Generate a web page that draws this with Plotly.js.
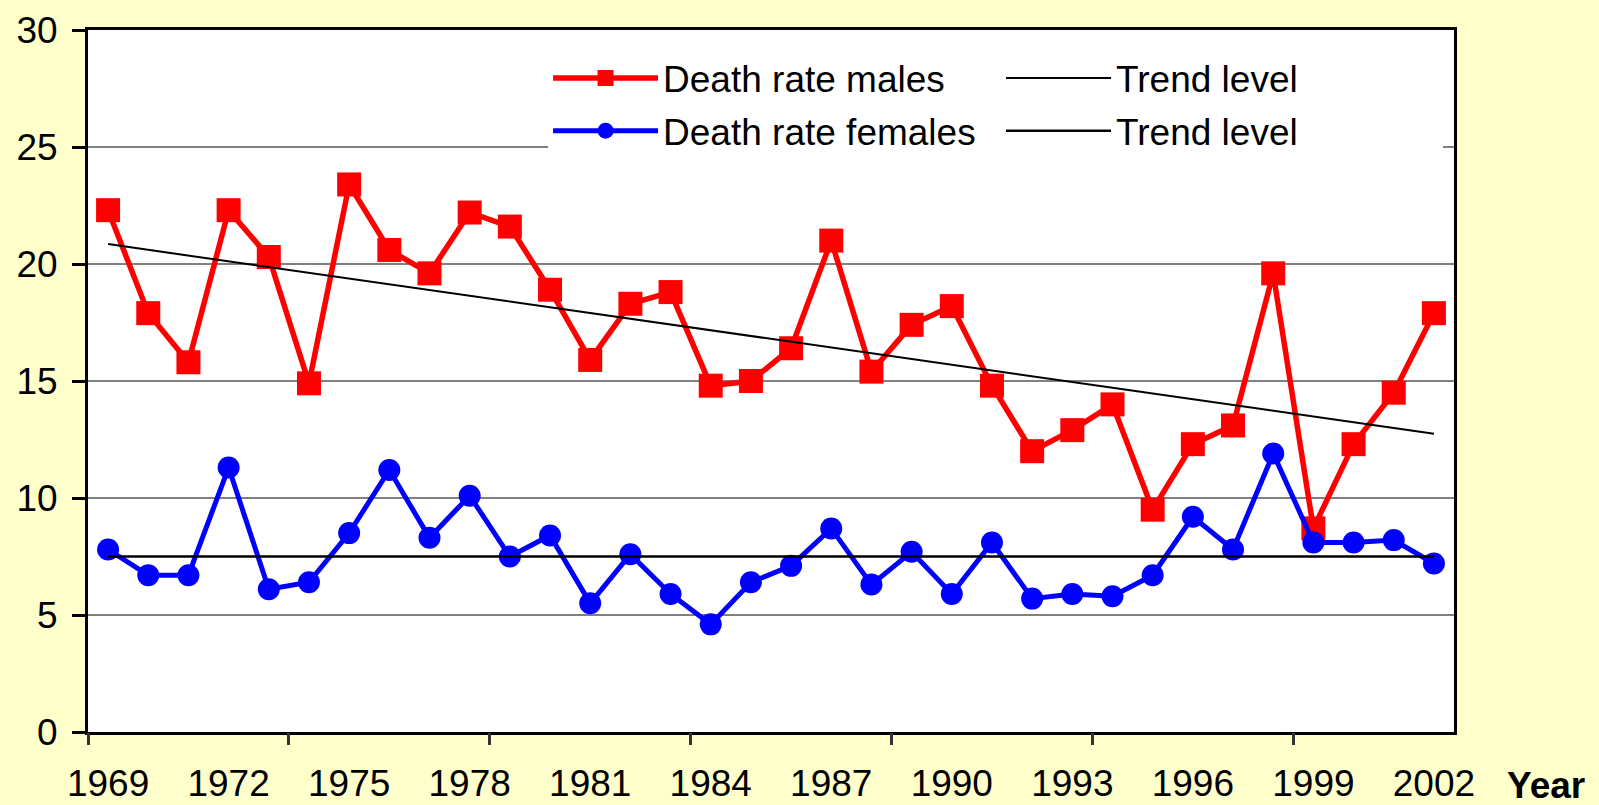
<!DOCTYPE html>
<html>
<head>
<meta charset="utf-8">
<script src="https://cdn.plot.ly/plotly-3.0.1.min.js"></script>
<style>
html,body{margin:0;padding:0;background:#FFFFCC;}
#chart{width:1599px;height:805px;}
</style>
</head>
<body>
<div id="chart"></div>
<script>
// ---- data ----
const years = [1969,1970,1971,1972,1973,1974,1975,1976,1977,1978,1979,1980,1981,1982,1983,1984,1985,1986,1987,1988,1989,1990,1991,1992,1993,1994,1995,1996,1997,1998,1999,2000,2001,2002];
const deathRateMales = [22.3,17.9,15.8,22.3,20.3,14.9,23.4,20.6,19.6,22.2,21.6,18.9,15.9,18.3,18.8,14.8,15.0,16.4,21.0,15.4,17.4,18.2,14.8,12.0,12.9,14.0,9.5,12.3,13.1,19.6,8.7,12.3,14.5,17.9];
const deathRateFemales = [7.8,6.7,6.7,11.3,6.1,6.4,8.5,11.2,8.3,10.1,7.5,8.4,5.5,7.6,5.9,4.6,6.4,7.1,8.7,6.3,7.7,5.9,8.1,5.7,5.9,5.8,6.7,9.2,7.8,11.9,8.1,8.1,8.2,7.2];
const trendYears = [1969, 2002];
const trendMales = [20.85, 12.75];
const trendFemales = [7.5, 7.5];
const labelYears = [1969,1972,1975,1978,1981,1984,1987,1990,1993,1996,1999,2002];
const labelText = labelYears.map(String);
const boundaryTicks = [1968.5,1973.5,1978.5,1983.5,1988.5,1993.5,1998.5];
const seriesNames = ['Death rate males','Trend level','Death rate females','Trend level'];

const FONT = '"Liberation Sans", Arial, sans-serif';
const FS = 37;

const traces = [
  {x: years, y: deathRateMales, name: seriesNames[0], type:'scatter', mode:'lines+markers',
   line:{color:'#FF0000', width:5.5}, marker:{symbol:'square', size:24, color:'#FF0000'},
   legend:'legend'},
  {x: trendYears, y: trendMales, name: seriesNames[1], type:'scatter', mode:'lines',
   line:{color:'#000000', width:2}, legend:'legend3'},
  {x: years, y: deathRateFemales, name: seriesNames[2], type:'scatter', mode:'lines+markers',
   line:{color:'#0000FF', width:5}, marker:{symbol:'circle', size:22, color:'#0000FF'},
   legend:'legend2'},
  {x: trendYears, y: trendFemales, name: seriesNames[3], type:'scatter', mode:'lines',
   line:{color:'#000000', width:2.5}, legend:'legend4'},
  // invisible trace carrying the boundary tick marks axis
  {x: [years[0]], y: [0], xaxis:'x2', yaxis:'y', mode:'markers', marker:{opacity:0}, showlegend:false, hoverinfo:'skip'}
];

const legendBase = {
  orientation:'h', bgcolor:'#FFFFFF', borderwidth:0,
  font:{family:FONT, size:FS, color:'#000000'}, xanchor:'left', yanchor:'middle',
  itemsizing:'trace', itemwidth:105, entrywidthmode:'pixels'
};

const layout = {
  width:1599, height:805,
  paper_bgcolor:'#FFFFCC', plot_bgcolor:'#FFFFFF',
  margin:{l:88, r:145, t:30, b:73, pad:0},
  font:{family:FONT, size:FS, color:'#000000'},
  showlegend:true,
  xaxis:{
    range:[1968.5, 2002.5], tickmode:'array', tickvals:labelYears, ticktext:labelText,
    ticks:'', showgrid:false, zeroline:false, showline:true, mirror:true,
    linecolor:'#000000', linewidth:3, tickfont:{family:FONT, size:FS, color:'#000000'},
    ticklabelstandoff:17
  },
  xaxis2:{
    overlaying:'x', matches:'x', range:[1968.5, 2002.5], tickmode:'array', tickvals:boundaryTicks,
    showticklabels:false, ticks:'outside', ticklen:12, tickwidth:3, tickcolor:'#333333',
    showgrid:false, zeroline:false, showline:false, side:'bottom', anchor:'y'
  },
  yaxis:{
    range:[0,30], tickmode:'linear', tick0:0, dtick:5, ticks:'outside', ticklen:13, tickwidth:3,
    tickcolor:'#000000', showgrid:true, gridcolor:'#808080', gridwidth:2.5, zeroline:false,
    showline:true, mirror:true, linecolor:'#000000', linewidth:3,
    tickfont:{family:FONT, size:FS, color:'#000000'}, ticklabelstandoff:7
  },
  legend:  Object.assign({}, legendBase, {x:0.3368, y:0.931, entrywidth:330}),
  legend2: Object.assign({}, legendBase, {x:0.3368, y:0.856, entrywidth:342}),
  legend3: Object.assign({}, legendBase, {x:0.6684, y:0.931, entrywidth:322}),
  legend4: Object.assign({}, legendBase, {x:0.6684, y:0.856, entrywidth:322}),
  annotations:[{
    text:'<b>Year</b>', xref:'paper', yref:'paper', x:1.0373, y:-0.0755,
    xanchor:'left', yanchor:'middle', showarrow:false,
    font:{family:FONT, size:FS, color:'#000000'}
  }]
};

Plotly.newPlot('chart', traces, layout, {staticPlot:true, displayModeBar:false});
</script>
</body>
</html>
